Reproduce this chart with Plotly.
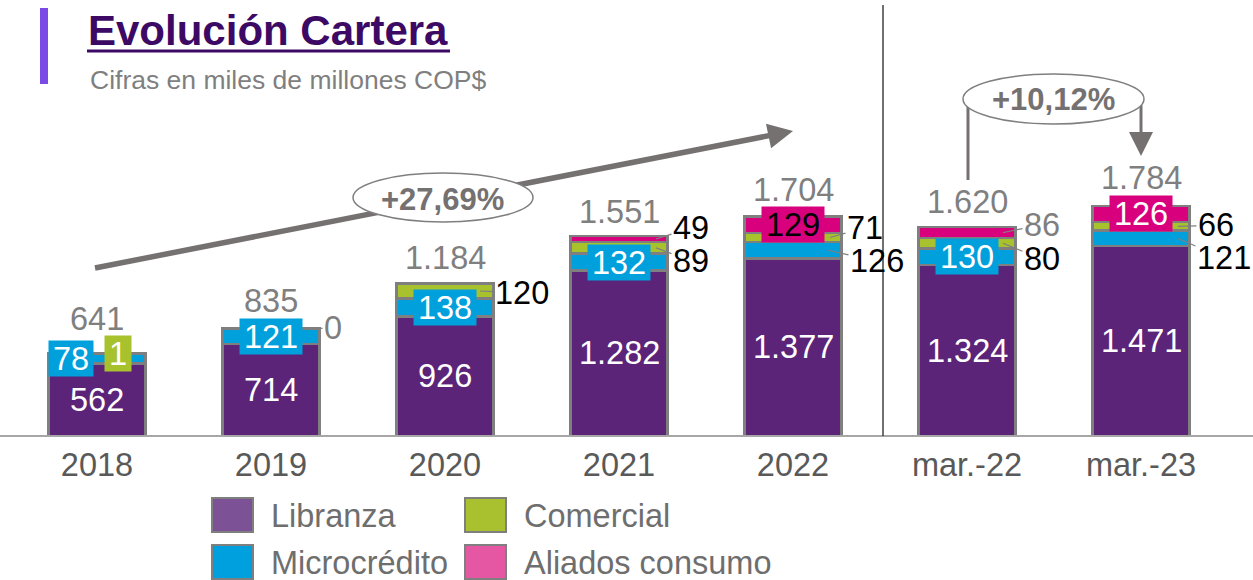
import plotly.graph_objects as go

# ---------------- data ----------------
categories = ["2018", "2019", "2020", "2021", "2022", "mar.-22", "mar.-23"]
libranza = [562, 714, 926, 1282, 1377, 1324, 1471]
microcredito = [78, 121, 138, 132, 126, 130, 121]
comercial = [1, 0, 120, 89, 71, 80, 66]
aliados = [None, None, None, 49, 129, 86, 126]
totales = [641, 835, 1184, 1551, 1704, 1620, 1784]
crecimiento_anual = "+27,69%"
crecimiento_trim = "+10,12%"
series_names = ["Libranza", "Microcrédito", "Comercial", "Aliados consumo"]
title_text = "Evolución Cartera"
subtitle_text = "Cifras en miles de millones COP$"

# ---------------- styling ----------------
W, H = 1253, 580
BOTTOM = 436
FONT = "Liberation Sans, Arial, sans-serif"
FS = 32.5
BAR_COLORS = ["#5B2479", "#00A0DD", "#A8C22E", "#D9007E"]
LEG_COLORS = ["#7D5195", "#009FDD", "#AAC12F", "#E657A3"]
OUTLINE = "#7F7F7F"
GREY_TXT = "#7F7F7F"
ARROW_GREY = "#767171"


def px(x):
    return x / W


def py(y):
    return (BOTTOM - y) / BOTTOM


def fmt(v):
    return f"{v:,}".replace(",", ".")


series = [libranza, microcredito, comercial, aliados]

fig = go.Figure()
for name, vals, color in zip(series_names, series, BAR_COLORS):
    fig.add_trace(go.Bar(
        x=categories, y=vals, name=name, width=0.56,
        marker=dict(color=color, line=dict(color=OUTLINE, width=2.5)),
        showlegend=False, hoverinfo="skip"))


def seg_mid(s, i):
    base = sum((series[k][i] or 0) for k in range(s))
    return base + (series[s][i] or 0) / 2


ann = []
# totals above bars
total_shift = [34, 27, 25, 24, 26, 25, 28]
for i, c in enumerate(categories):
    top = sum((series[k][i] or 0) for k in range(4))
    ann.append(dict(x=i, y=top, text=fmt(totales[i]), showarrow=False, yshift=total_shift[i],
                    font=dict(size=FS, color=GREY_TXT, family=FONT)))
# libranza labels
for i, c in enumerate(categories):
    ann.append(dict(x=i, y=seg_mid(0, i), text=fmt(libranza[i]), showarrow=False,
                    font=dict(size=FS, color="white", family=FONT)))

# boxed labels: (index, series, xshift, text colour)
boxed = [(0, 1, -26, "white"), (1, 1, 0, "white"), (2, 1, 0, "white"), (3, 1, 0, "white"),
         (5, 1, 0, "white"), (0, 2, 21, "white"), (4, 3, 0, "black"), (6, 3, 0, "white")]
for i, s, xs, tc in boxed:
    t = fmt(series[s][i])
    ann.append(dict(x=i, y=seg_mid(s, i), text=t, showarrow=False, xshift=xs,
                    bgcolor=BAR_COLORS[s], width=18 * len(t) + 8, height=35, borderpad=0,
                    font=dict(size=FS, color=tc, family=FONT)))

# leader labels: (index, series, xshift, ax, ay, colour)
leaders = [(1, 2, 48, 14, 0, GREY_TXT), (2, 2, 35, 42, 2, "black"),
           (3, 3, 37, 35, -11, "black"), (3, 2, 37, 35, 13, "black"),
           (4, 2, 37, 35, -10, "black"), (4, 1, 35, 49, 11, "black"),
           (5, 3, 36, 39, -8, GREY_TXT), (5, 2, 36, 39, 16, "black"),
           (6, 2, 37, 38, -1, "black"), (6, 1, 37, 46, 20, "black")]
for i, s, xs, ax, ay, col in leaders:
    ann.append(dict(x=i, y=seg_mid(s, i), text=fmt(series[s][i]), xshift=xs,
                    showarrow=True, arrowhead=0, arrowwidth=1.2, arrowcolor=OUTLINE,
                    ax=ax, ay=ay, standoff=0, font=dict(size=FS, color=col, family=FONT)))

shapes = []
# baseline & separator
shapes.append(dict(type="line", xref="paper", yref="paper", x0=0, x1=1, y0=0, y1=0,
                   line=dict(color="#A6A6A6", width=2)))
shapes.append(dict(type="line", xref="paper", yref="paper", x0=px(883), x1=px(883),
                   y0=0, y1=py(5), line=dict(color="#404040", width=1.5)))
# title decorations
shapes.append(dict(type="rect", xref="paper", yref="paper", x0=px(40), x1=px(48),
                   y0=py(84), y1=py(8), fillcolor="#7B4AE6", line=dict(width=0)))
shapes.append(dict(type="line", xref="paper", yref="paper", x0=px(87), x1=px(450),
                   y0=py(51), y1=py(51), line=dict(color="#3C0A64", width=3)))
ann.append(dict(xref="paper", yref="paper", x=px(86), y=py(31), xanchor="left", yanchor="middle",
                text="<b>" + title_text + "</b>", showarrow=False,
                font=dict(size=42, color="#3C0A64", family=FONT)))
ann.append(dict(xref="paper", yref="paper", x=px(88), y=py(80), xanchor="left", yanchor="middle",
                text=subtitle_text, showarrow=False, font=dict(size=26.5, color=GREY_TXT, family=FONT)))

# trend arrow
shapes.append(dict(type="line", xref="paper", yref="paper", x0=px(95), y0=py(268),
                   x1=px(780), y1=py(133.5), line=dict(color=ARROW_GREY, width=5.5)))
ann.append(dict(xref="paper", yref="paper", x=px(793), y=py(131), ax=-24, ay=5, text="",
                showarrow=True, arrowhead=2, arrowsize=1, arrowwidth=5, arrowcolor=ARROW_GREY))
shapes.append(dict(type="circle", xref="paper", yref="paper", x0=px(353), x1=px(533),
                   y0=py(222), y1=py(173), fillcolor="white", line=dict(color=OUTLINE, width=1.5)))
ann.append(dict(xref="paper", yref="paper", x=px(443), y=py(199), xanchor="center", yanchor="middle",
                text="<b>" + crecimiento_anual + "</b>",
                showarrow=False, font=dict(size=31, color=ARROW_GREY, family=FONT)))

# quarterly bracket
shapes.append(dict(type="line", xref="paper", yref="paper", x0=px(968), x1=px(968),
                   y0=py(180), y1=py(105), line=dict(color=ARROW_GREY, width=3)))
shapes.append(dict(type="line", xref="paper", yref="paper", x0=px(1141), x1=px(1141),
                   y0=py(145), y1=py(105), line=dict(color=ARROW_GREY, width=3)))
ann.append(dict(xref="paper", yref="paper", x=px(1141), y=py(156), ax=0, ay=-22, text="",
                showarrow=True, arrowhead=2, arrowsize=1.6, arrowwidth=3, arrowcolor=ARROW_GREY))
shapes.append(dict(type="circle", xref="paper", yref="paper", x0=px(963), x1=px(1144),
                   y0=py(124), y1=py(74), fillcolor="white", line=dict(color=OUTLINE, width=1.5)))
ann.append(dict(xref="paper", yref="paper", x=px(1053), y=py(100), xanchor="center", yanchor="middle",
                text="<b>" + crecimiento_trim + "</b>",
                showarrow=False, font=dict(size=31, color=ARROW_GREY, family=FONT)))

# custom legend (2x2)
leg_pos = [(212, 498), (212, 545), (465, 498), (465, 545)]
for name, col, (lx, ly) in zip(series_names, LEG_COLORS, leg_pos):
    shapes.append(dict(type="rect", xref="paper", yref="paper", x0=px(lx), x1=px(lx + 41),
                       y0=py(ly + 34), y1=py(ly), fillcolor=col, line=dict(color=OUTLINE, width=2)))
    ann.append(dict(xref="paper", yref="paper", x=px(lx + 57), y=py(ly + 18), xanchor="left",
                    yanchor="middle", text=name, showarrow=False,
                    font=dict(size=FS, color="#6E6E6E", family=FONT)))

fig.update_layout(
    width=W, height=H, barmode="stack",
    margin=dict(l=0, r=0, t=0, b=H - BOTTOM, autoexpand=False),
    paper_bgcolor="white", plot_bgcolor="white",
    font=dict(family=FONT),
    xaxis=dict(type="category", range=[-97 / 174, (W - 97) / 174], showgrid=False, showline=False,
               zeroline=False, ticks="", ticklabelstandoff=6,
               tickfont=dict(size=FS, color="#595959", family=FONT)),
    yaxis=dict(range=[0, BOTTOM / 0.129], visible=False),
    annotations=ann, shapes=shapes,
)

fig.write_html("out.html", config={"displayModeBar": False},
               post_script="document.body.style.margin='0';document.body.style.overflow='hidden';")
